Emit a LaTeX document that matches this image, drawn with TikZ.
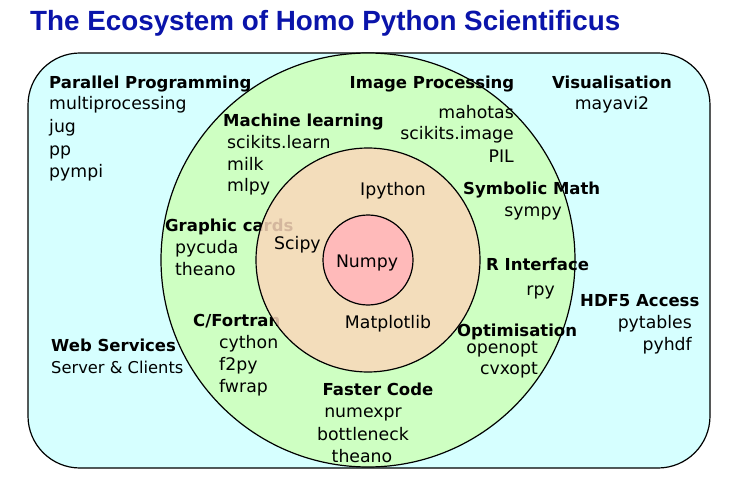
\documentclass[tikz,border=0pt]{standalone}
\usepackage{fontspec}
\setmainfont{DejaVu Sans}
\newfontfamily\titlefont{Liberation Sans}
\usepackage{xcolor}
\usepackage{tikz}
\usetikzlibrary{positioning}

\definecolor{pagebg}{RGB}{214,255,255}
\definecolor{ringgreen}{RGB}{206,255,194}
\definecolor{ringorange}{RGB}{250,216,186}
\definecolor{corered}{RGB}{255,186,186}
\definecolor{titleblue}{RGB}{10,20,170}

\begin{document}
\begin{tikzpicture}[
    x=1pt, y=-1pt,
    every node/.style={font=\fontsize{17.3}{20}\selectfont, inner sep=0pt, text height=15.5pt, text depth=3.5pt},
    head/.style={font=\fontsize{16.5}{20}\selectfont\bfseries},
    ring/.style={draw=black, line width=1.2pt}
  ]
    \useasboundingbox (0,0) rectangle (736,481);

    % Title
    \node[anchor=west, text=titleblue, text height=20pt, text depth=6pt, font=\titlefont\fontsize{27.8}{30}\selectfont\bfseries] (title) at (30,24) {The Ecosystem of Homo Python Scientificus};

    % Outer box and green ring
    \draw[ring, fill=pagebg, rounded corners=52pt] (28,53) rectangle (710,468);
    \draw[ring, fill=ringgreen] (368,260) circle (207pt);

    % Labels partly hidden by the orange ring
    \node[head, anchor=west] (gpu) at (165,226) {Graphic cards};
    \node[head, anchor=west] (cfort) at (193,320) {C/Fortran};

    % Orange ring and core
    \draw[ring, fill=ringorange, fill opacity=0.85] (368,260) circle (112pt);
    \draw[ring, fill=corered] (368,260) circle (45pt);

    % Core packages
    \node (numpy) at (367,261) {Numpy};
    \node (ipython) at (393,190) {Ipython};
    \node[anchor=west] (scipy) at (274,243) {Scipy};
    \node (mpl) at (388,322) {Matplotlib};

    % Parallel Programming
    \node[head, anchor=west] (par) at (49,83) {Parallel Programming};
    \node[anchor=west] (mproc) at (49,104) {multiprocessing};
    \node[anchor=west] (jug) at (49,127) {jug};
    \node[anchor=west] (pp) at (49,150) {pp};
    \node[anchor=west] (pympi) at (49,172) {pympi};

    % Image Processing
    \node[head] (img) at (432,83) {Image Processing};
    \node[anchor=east] (mahotas) at (514,113) {mahotas};
    \node[anchor=east] (skimage) at (514,134) {scikits.image};
    \node[anchor=east] (pil) at (514,157) {PIL};

    % Visualisation
    \node[head] (vis) at (612,83) {Visualisation};
    \node (mayavi) at (612,104) {mayavi2};

    % Machine learning
    \node[head, anchor=west] (ml) at (223,121) {Machine learning};
    \node[anchor=west] (sklearn) at (227,143) {scikits.learn};
    \node[anchor=west] (milk) at (227,165) {milk};
    \node[anchor=west] (mlpy) at (227,186) {mlpy};

    % Symbolic Math
    \node[head, anchor=west] (sym) at (463,189) {Symbolic Math};
    \node[anchor=east] (sympy) at (562,211) {sympy};

    % Graphic cards
    \node[anchor=west] (pycuda) at (175,247) {pycuda};
    \node[anchor=west] (theanoA) at (175,269) {theano};

    % R Interface
    \node[head, anchor=west] (rint) at (486,264) {R Interface};
    \node[anchor=east] (rpy) at (555,289) {rpy};

    % HDF5 Access
    \node[head, anchor=west] (hdf) at (580,300) {HDF5 Access};
    \node[anchor=east] (pytables) at (692,322) {pytables};
    \node[anchor=east] (pyhdf) at (692,344) {pyhdf};

    % C/Fortran
    \node[anchor=west] (cython) at (219,342) {cython};
    \node[anchor=west] (f2py) at (219,364) {f2py};
    \node[anchor=west] (fwrap) at (219,386) {fwrap};

    % Optimisation
    \node[head, anchor=west] (opt) at (457,330) {Optimisation};
    \node[anchor=east] (openopt) at (538,347) {openopt};
    \node[anchor=east] (cvxopt) at (538,368) {cvxopt};

    % Web Services
    \node[head, anchor=west] (web) at (51,345) {Web Services};
    \node[anchor=west, font=\fontsize{16.3}{20}\selectfont] (srv) at (51,367) {Server \& Clients};

    % Faster Code
    \node[head] (fast) at (378,389) {Faster Code};
    \node (numexpr) at (363,411) {numexpr};
    \node (bneck) at (363,434) {bottleneck};
    \node (theanoB) at (362,456) {theano};

  \end{tikzpicture}
\end{document}
